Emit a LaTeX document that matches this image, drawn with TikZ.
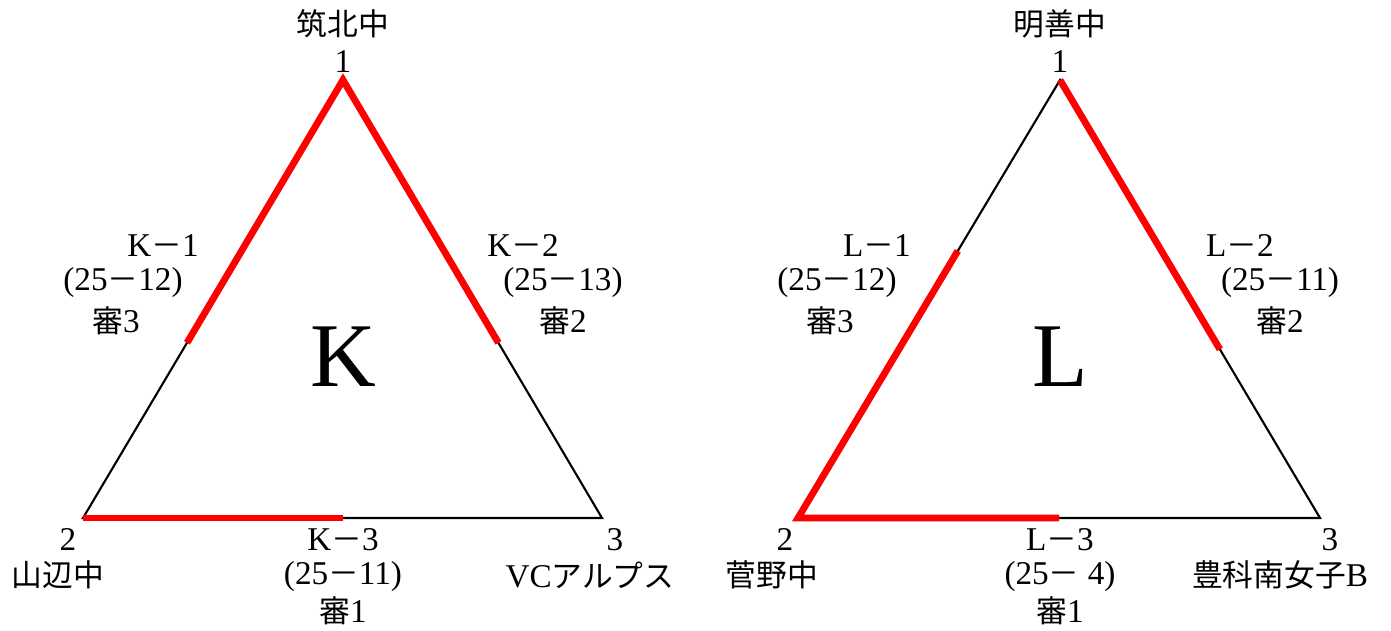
\documentclass[tikz,border=0pt]{standalone}
\usepackage{fontspec}
\setmainfont[Scale=1.08]{Liberation Serif}
\newfontfamily\jp{Noto Sans CJK JP}
\usepackage{tikz}
\usetikzlibrary{calc}
\newcommand\zdash{{\jp －}}

\begin{document}
\begin{tikzpicture}[
  x=0.02cm,y=-0.02cm,
  lbl/.style={inner sep=0pt,font=\fontsize{17.5}{21}\selectfont},
  big/.style={inner sep=0pt,font=\fontsize{48}{54}\selectfont},
  edge/.style={draw=black,line width=1.2pt},
  win/.style={draw=red,line width=3.9pt,line join=miter}
]
  \useasboundingbox (0,0) rectangle (1391,631);
  % triangle K
  \coordinate (k1) at (343,80);
  \coordinate (k2) at (83,518);
  \coordinate (k3) at (602,518);
  \draw[edge] (k1) -- (k2) -- (k3) -- cycle;
  \draw[win] ($(k1)!0.6!(k2)$) -- (k1) -- ($(k1)!0.6!(k3)$);
  \draw[win] (k2) -- ($(k2)!0.5!(k3)$);
  \node[lbl] (kn1) at (343,24) {\jp 筑北中};
  \node[lbl] (kv1) at (343,62) {1};
  \node[lbl] (kv2) at (68,540) {2};
  \node[lbl] (kn2) at (58,575) {\jp 山辺中};
  \node[lbl] (kv3) at (615,540) {3};
  \node[lbl] (kn3) at (590,575) {VC{\jp アルプス}};
  \node[big] (kc) at (343,357) {K};
  \node[lbl] (km1) at (163,246) {K\zdash1};
  \node[lbl] (ks1) at (123,283) {(25\zdash12)};
  \node[lbl] (kr1) at (116,321) {{\jp 審}3};
  \node[lbl] (km2) at (523,246) {K\zdash2};
  \node[lbl] (ks2) at (563,283) {(25\zdash13)};
  \node[lbl] (kr2) at (563,321) {{\jp 審}2};
  \node[lbl] (km3) at (343,540) {K\zdash3};
  \node[lbl] (ks3) at (343,577) {(25\zdash11)};
  \node[lbl] (kr3) at (343,611) {{\jp 審}1};
  % triangle L
  \coordinate (l1) at (1060,80);
  \coordinate (l2) at (798,518);
  \coordinate (l3) at (1320,518);
  \draw[edge] (l1) -- (l2) -- (l3) -- cycle;
  \draw[win] ($(l2)!0.61!(l1)$) -- (l2) -- ($(l2)!0.5!(l3)$);
  \draw[win] (l1) -- ($(l1)!0.615!(l3)$);
  \node[lbl] (ln1) at (1060,24) {\jp 明善中};
  \node[lbl] (lv1) at (1060,62) {1};
  \node[lbl] (lv2) at (785,540) {2};
  \node[lbl] (ln2) at (772,575) {\jp 菅野中};
  \node[lbl] (lv3) at (1330,540) {3};
  \node[lbl] (ln3) at (1280,575) {{\jp 豊科南女子}B};
  \node[big] (lc) at (1060,357) {L};
  \node[lbl] (lm1) at (877,246) {L\zdash1};
  \node[lbl] (ls1) at (837,283) {(25\zdash12)};
  \node[lbl] (lr1) at (830,321) {{\jp 審}3};
  \node[lbl] (lm2) at (1240,246) {L\zdash2};
  \node[lbl] (ls2) at (1280,283) {(25\zdash11)};
  \node[lbl] (lr2) at (1280,321) {{\jp 審}2};
  \node[lbl] (lm3) at (1060,540) {L\zdash3};
  \node[lbl] (ls3) at (1060,577) {(25\zdash\ 4)};
  \node[lbl] (lr3) at (1060,611) {{\jp 審}1};
\end{tikzpicture}
\end{document}
